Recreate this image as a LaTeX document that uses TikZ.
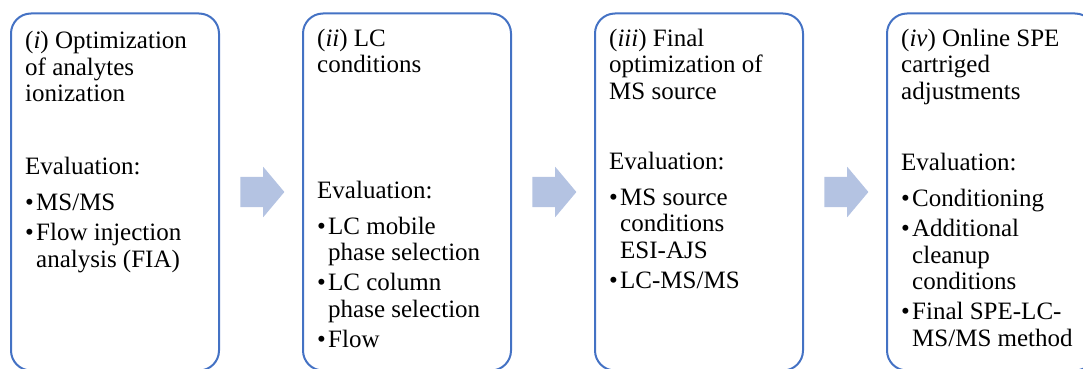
\documentclass[tikz,border=0pt]{standalone}
\usepackage{fontspec}
\setmainfont{Liberation Serif}
\usepackage{xcolor}
\usetikzlibrary{positioning,calc,shapes.arrows}
\definecolor{boxblue}{HTML}{4472C4}
\definecolor{arrowblue}{HTML}{B4C3E2}

\tikzset{
  stepbox/.style={draw=boxblue, line width=2pt, rounded corners=20pt,
    minimum width=208pt, minimum height=357pt, inner sep=0pt, anchor=north west},
  txt/.style={anchor=base west, align=left, inner sep=0pt,
    font=\fontsize{25}{26.5}\selectfont},
  blockarrow/.style={single arrow, fill=arrowblue, draw=none,
    minimum height=44pt, inner xsep=0pt, inner ysep=15pt,
    single arrow head extend=10pt, single arrow tip angle=100}
}
\newcommand{\bul}{\makebox[11pt][l]{\textbullet}}
\newcommand{\cont}{\hspace*{11pt}}

\begin{document}
\begin{tikzpicture}[x=1pt,y=-1pt]
\useasboundingbox (0,0) rectangle (1083,369);
\clip (0,0) rectangle (1083,369);

\node[stepbox] (box1) at (10,12.5) {};
\node[stepbox] (box2) at (302,12.5) {};
\node[stepbox] (box3) at (594,12.5) {};
\node[stepbox] (box4) at (886,12.5) {};

% text blocks are placed by the baseline of their last line
\node[txt] (title1) at (25,101.5) {(\textit{i}) Optimization\\of analytes\\ionization};
\node[txt] (eval1) at (25,267) {Evaluation:\\[9.5pt]\bul MS/MS\\[3.5pt]\bul Flow injection\\\cont analysis (FIA)};

\node[txt] (title2) at (317,73) {(\textit{ii}) LC\\conditions};
\node[txt] (eval2) at (317,347) {Evaluation:\\[9.5pt]\bul LC mobile\\\cont phase selection\\[3.5pt]\bul LC column\\\cont phase selection\\[3.5pt]\bul Flow};

\node[txt] (title3) at (609,99) {(\textit{iii}) Final\\optimization of\\MS source};
\node[txt] (eval3) at (609,288) {Evaluation:\\[9.5pt]\bul MS source\\\cont conditions\\\cont ESI-AJS\\[3.5pt]\bul LC-MS/MS};

\node[txt] (title4) at (901,99) {(\textit{iv}) Online SPE\\cartriged\\adjustments};
\node[txt] (eval4) at (901,346) {Evaluation:\\[9.5pt]\bul Conditioning\\[3.5pt]\bul Additional\\\cont cleanup\\\cont conditions\\[3.5pt]\bul Final SPE-LC-\\\cont MS/MS method};

\node[blockarrow] (arr1) at ($(box1.east)!0.5!(box2.west)+(-5,0)$) {};
\node[blockarrow] (arr2) at ($(box2.east)!0.5!(box3.west)+(-5,0)$) {};
\node[blockarrow] (arr3) at ($(box3.east)!0.5!(box4.west)+(-5,0)$) {};
\end{tikzpicture}
\end{document}
